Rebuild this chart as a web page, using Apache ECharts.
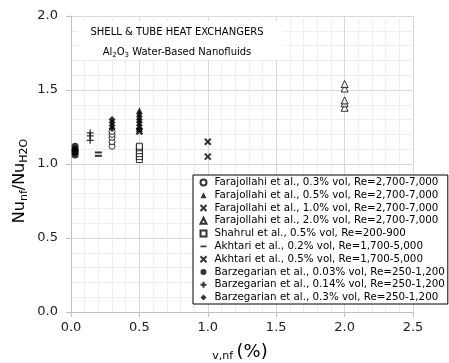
<!DOCTYPE html>
<html><head><meta charset="utf-8">
<script src="https://cdn.jsdelivr.net/npm/echarts@6/dist/echarts.min.js"></script>
<style>html,body{margin:0;padding:0;background:#fff}#c{width:449px;height:363px}</style>
</head><body><div id="c"></div>
<script>
const xTicks = [0.0, 0.5, 1.0, 1.5, 2.0, 2.5];
const yTicks = [0.0, 0.5, 1.0, 1.5, 2.0];
const seriesNames = [
  'Farajollahi et al., 0.3% vol, Re=2,700-7,000',
  'Farajollahi et al., 0.5% vol, Re=2,700-7,000',
  'Farajollahi et al., 1.0% vol, Re=2,700-7,000',
  'Farajollahi et al., 2.0% vol, Re=2,700-7,000',
  'Shahrul et al., 0.5% vol, Re=200-900',
  'Akhtari et al., 0.2% vol, Re=1,700-5,000',
  'Akhtari et al., 0.5% vol, Re=1,700-5,000',
  'Barzegarian et al., 0.03% vol, Re=250-1,200',
  'Barzegarian et al., 0.14% vol, Re=250-1,200',
  'Barzegarian et al., 0.3% vol, Re=250-1,200'
];
const seriesX = [0.3, 0.5, 1.0, 2.0, 0.5, 0.2, 0.5, 0.03, 0.14, 0.3];
const farajollahi03 = [1.12, 1.15, 1.18, 1.20, 1.22];
const farajollahi05 = [1.24, 1.26, 1.28, 1.30, 1.32, 1.34, 1.36];
const farajollahi10 = [1.05, 1.15];
const farajollahi20 = [1.38, 1.41, 1.43, 1.51, 1.54];
const shahrul05 = [1.03, 1.05, 1.07, 1.09, 1.11, 1.12];
const akhtari02 = [1.055, 1.078];
const akhtari05 = [1.22];
const barzegarian003 = [1.06, 1.08, 1.09, 1.10, 1.12];
const barzegarian014 = [1.16, 1.19, 1.21];
const barzegarian03 = [1.24, 1.26, 1.28, 1.30];
const seriesValues = [farajollahi03, farajollahi05, farajollahi10, farajollahi20, shahrul05,
  akhtari02, akhtari05, barzegarian003, barzegarian014, barzegarian03];

const X = 'path://M0,0L10,10M10,0L0,10';
const PLUS = 'path://M5,0L5,10M0,5L10,5';
const DASH = 'path://M0,0L7,0L7,2L0,2Z';
const hollow = {color: '#fff', borderColor: '#000', borderWidth: 1};
const styles = [
  {symbol: 'circle', symbolSize: 6, itemStyle: hollow},
  {symbol: 'triangle', symbolSize: 7, itemStyle: {color: '#000'}},
  {symbol: X, symbolSize: 6, itemStyle: {color: 'none', borderColor: '#000', borderWidth: 2}},
  {symbol: 'triangle', symbolSize: 7, itemStyle: hollow},
  {symbol: 'rect', symbolSize: 6, itemStyle: hollow},
  {symbol: 'rect', symbolSize: [7, 2], itemStyle: {color: '#000'}},
  {symbol: X, symbolSize: 6, itemStyle: {color: 'none', borderColor: '#000', borderWidth: 2.4}},
  {symbol: 'circle', symbolSize: 7, itemStyle: {color: '#000'}},
  {symbol: PLUS, symbolSize: 7, itemStyle: {color: 'none', borderColor: '#000', borderWidth: 1.3}},
  {symbol: 'diamond', symbolSize: 7, itemStyle: {color: '#000'}}
];

const series = seriesNames.map((n, i) => Object.assign({
  name: n, type: 'scatter', z: 5,
  data: seriesValues[i].map(v => [seriesX[i], v])
}, styles[i]));

const legendData = seriesNames.map((n, i) => i === 5 ? {name: n, icon: DASH} : {name: n});

const FONT = 'DejaVu Sans';
const chart = echarts.init(document.getElementById('c'), null, {renderer: 'canvas'});
chart.setOption({
  animation: false,
  backgroundColor: '#fff',
  grid: {left: 71, right: 36, top: 16, bottom: 51},
  xAxis: {
    type: 'value', min: xTicks[0], max: xTicks[xTicks.length - 1], interval: 0.5,
    axisLine: {show: true, lineStyle: {color: '#bfbfbf'}},
    axisTick: {show: true, length: 5, lineStyle: {color: '#bfbfbf'}},
    minorTick: {show: false},
    splitLine: {show: true, lineStyle: {color: '#d9d9d9'}},
    minorSplitLine: {show: true, lineStyle: {color: '#eeeeee'}},
    axisLabel: {fontFamily: FONT, fontSize: 13, color: '#222', margin: 9, formatter: v => v.toFixed(1)}
  },
  yAxis: {
    type: 'value', min: yTicks[0], max: yTicks[yTicks.length - 1], interval: 0.5,
    minorTick: {show: false, splitNumber: 5},
    axisLine: {show: true, lineStyle: {color: '#bfbfbf'}},
    axisTick: {show: true, length: 5, lineStyle: {color: '#bfbfbf'}},
    splitLine: {show: true, lineStyle: {color: '#d9d9d9'}},
    minorSplitLine: {show: true, lineStyle: {color: '#eeeeee'}},
    axisLabel: {fontFamily: FONT, fontSize: 13, color: '#222', margin: 13, formatter: v => v.toFixed(1)}
  },
  legend: {
    orient: 'vertical', left: 193, top: 175,
    backgroundColor: '#fff', borderColor: '#000', borderWidth: 1,
    padding: [1, 3, 0, 5], itemWidth: 6, itemHeight: 6, itemGap: 0,
    textStyle: {fontFamily: FONT, fontSize: 10.3, color: '#000', lineHeight: 12.8, padding: [0, 0, 0, 3]},
    data: legendData
  },
  graphic: [
    {type: 'rect', left: 78, top: 21, shape: {width: 205, height: 39}, style: {fill: '#fff'}, z: 3},
    {type: 'text', x: 177, y: 32, z: 4, style: {text: 'SHELL & TUBE HEAT EXCHANGERS', font: '10px DejaVu Sans', fill: '#000', align: 'center', verticalAlign: 'middle'}},
    {type: 'text', x: 177, y: 52, z: 4, style: {
      text: '{a|Al}{s|2}{a|O}{s|3}{a| Water-Based Nanofluids}', align: 'center', verticalAlign: 'middle',
      rich: {a: {fontFamily: FONT, fontSize: 10, fill: '#000'}, s: {fontFamily: FONT, fontSize: 7, fill: '#000', padding: [6, 0, 0, 0]}}
    }},
    {type: 'text', x: 20, y: 181, rotation: Math.PI / 2, z: 4, style: {
      text: '{a|Nu}{s|nf}{a|/Nu}{s|H2O}', align: 'center', verticalAlign: 'middle',
      rich: {a: {fontFamily: FONT, fontSize: 16, fill: '#000'}, s: {fontFamily: FONT, fontSize: 11, fill: '#000', padding: [9, 0, 0, 0]}}
    }},
    {type: 'text', x: 240, y: 352, z: 4, style: {
      text: '{s|v,nf }{a|(%)}', align: 'center', verticalAlign: 'middle',
      rich: {a: {fontFamily: FONT, fontSize: 18, fill: '#000'}, s: {fontFamily: FONT, fontSize: 11, fill: '#000', padding: [9, 0, 0, 0]}}
    }}
  ],
  series: series
});
</script></body></html>
